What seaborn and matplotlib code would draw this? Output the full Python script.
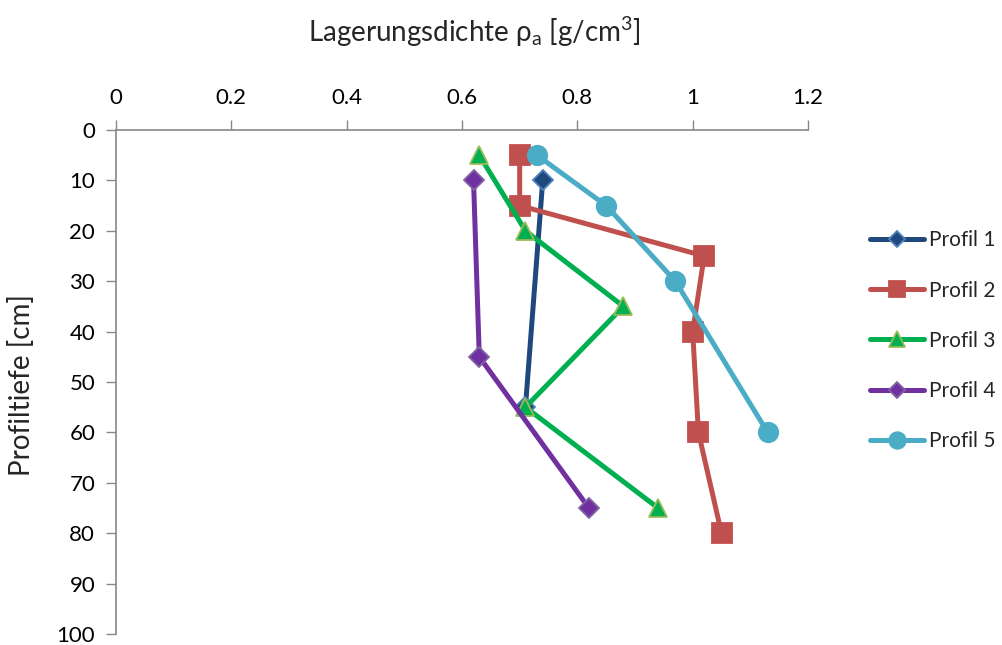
import matplotlib
matplotlib.use("Agg")
import matplotlib.pyplot as plt
import seaborn as sns
import pandas as pd

sns.set_style("white")
plt.rcParams['font.family'] = ['Lato', 'DejaVu Sans']
plt.rcParams['mathtext.fontset'] = 'custom'
plt.rcParams['mathtext.rm'] = 'Lato'

# Bulk density (g/cm3) against sampling depth (cm) for each profile
p1_density = [0.74, 0.71]
p1_depth = [10, 55]
p2_density = [0.70, 0.70, 1.02, 1.00, 1.01, 1.05]
p2_depth = [5, 15, 25, 40, 60, 80]
p3_density = [0.63, 0.71, 0.88, 0.71, 0.94]
p3_depth = [5, 20, 35, 55, 75]
p4_density = [0.62, 0.63, 0.82]
p4_depth = [10, 45, 75]
p5_density = [0.73, 0.85, 0.97, 1.13]
p5_depth = [5, 15, 30, 60]

labels = ["Profil 1", "Profil 2", "Profil 3", "Profil 4", "Profil 5"]
x_ticks = [0, 0.2, 0.4, 0.6, 0.8, 1, 1.2]
x_tick_labels = ["0", "0.2", "0.4", "0.6", "0.8", "1", "1.2"]
y_ticks = [0, 10, 20, 30, 40, 50, 60, 70, 80, 90, 100]

series = [
    (p1_density, p1_depth, "#1F497D", "D", "#4F81BD", 10),
    (p2_density, p2_depth, "#C0504D", "s", "#C0504D", 14),
    (p3_density, p3_depth, "#00B050", "^", "#9BBB59", 13),
    (p4_density, p4_depth, "#7030A0", "D", "#8064A2", 10),
    (p5_density, p5_depth, "#4BACC6", "o", "#4BACC6", 14),
]

fig = plt.figure(figsize=(10.03, 6.45), dpi=100)
ax = fig.add_axes([116 / 1003, 1 - 634 / 645, (808 - 116) / 1003, (634 - 130) / 645])

for (dens, depth, col, mk, edge, ms), lab in zip(series, labels):
    df = pd.DataFrame({"density": dens, "depth": depth})
    sns.lineplot(data=df, x="density", y="depth", sort=False, ax=ax,
                 color=col, linewidth=3.6, marker=mk, markersize=ms,
                 markerfacecolor=col, markeredgecolor=edge, markeredgewidth=1.3,
                 label=lab, estimator=None)

ax.set_xlim(0, 1.2)
ax.set_ylim(100, 0)
ax.set_xticks(x_ticks)
ax.set_xticklabels(x_tick_labels)
ax.set_yticks(y_ticks)
ax.xaxis.tick_top()
ax.tick_params(axis="both", labelsize=16, colors="#000000", length=7, width=1,
               direction="out")
ax.tick_params(axis="x", top=True, bottom=False, color="#888888", pad=9)
ax.tick_params(axis="y", left=True, color="#888888", pad=8)
for side in ["right", "bottom"]:
    ax.spines[side].set_visible(False)
for side in ["top", "left"]:
    ax.spines[side].set_color("#888888")
    ax.spines[side].set_linewidth(1.2)
ax.set_xlabel("")
ax.set_ylabel("")

fig.text(474 / 1003, 1 - 32 / 645, r"Lagerungsdichte $\mathregular{\rho_a}$ [g/cm$\mathregular{^3}$]",
         ha="center", va="center", fontsize=20)
fig.text(22 / 1003, 1 - 385 / 645, "Profiltiefe [cm]", rotation=90,
         ha="center", va="center", fontsize=20)

leg = ax.legend(loc="upper left", bbox_to_anchor=(862 / 1003, 1 - 222 / 645),
                bbox_transform=fig.transFigure, frameon=False, fontsize=15,
                handlelength=2.6, labelspacing=1.45, handletextpad=0.2,
                borderaxespad=0)
for h in leg.legend_handles:
    h.set_markersize(h.get_markersize() * 0.85)

fig.savefig("out.png", dpi=100)
